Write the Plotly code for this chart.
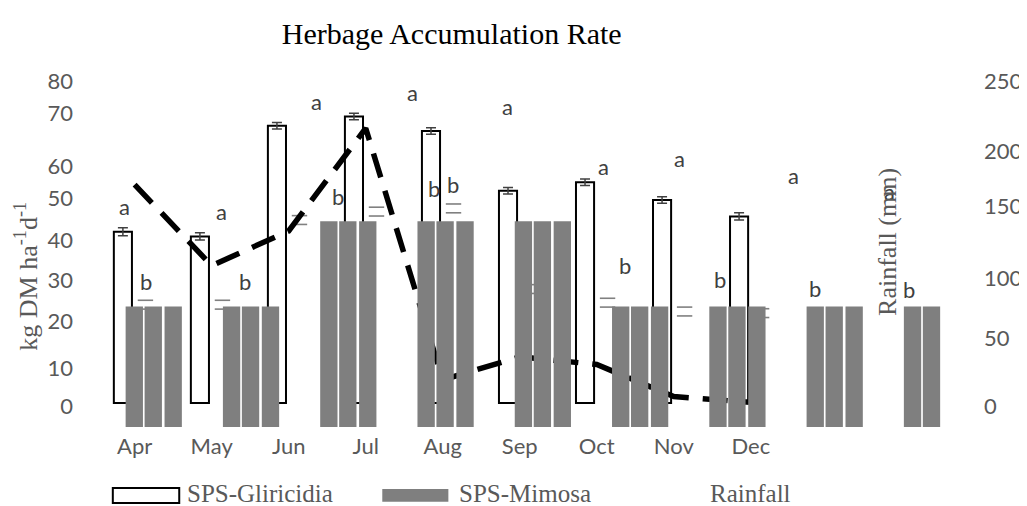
import plotly.graph_objects as go

# months on the category axis
months = ["Apr", "May", "Jun", "Jul", "Aug", "Sep", "Oct", "Nov", "Dec"]

# herbage accumulation rate, kg DM ha-1 d-1
gliricidia = [42.7, 41.5, 69.1, 71.4, 67.8, 52.9, 55.0, 50.6, 46.5]
gliricidia_err = [1.0, 0.9, 0.8, 0.8, 0.8, 0.8, 0.8, 0.8, 0.9]
mimosa = [24.5, 24.5, 45.6, 47.7, 48.5, 28.4, 25.0, 22.8, 22.4]
mimosa_err = [1.1, 1.1, 1.1, 1.1, 1.1, 1.1, 1.1, 1.1, 1.1]

# grey mimosa blocks as they show up in the picture (drawn on their own axis)
mimosa_blocks = [30.0, 30.0, 51.3, 51.3, 51.3, 30.0, 30.0, 30.0, 30.0]

# monthly rainfall, mm
rainfall = [170, 107, 134, 214, 18, 36, 30, 5, 0.5]

# significance letters
letters_gli = ["a", "a", "a", "a", "a", "a", "a", "a", "a"]
letters_mim = ["b", "b", "b", "b", "b", "b", "b", "b", "b"]
letters_gli_x = [-0.294, 0.701, 1.674, 2.659, 3.644, 4.627, 5.408, 6.579, 7.570]
letters_mim_x = [-0.080, 0.938, 1.902, 2.886, 3.076, 4.848, 5.823, 6.800, 7.768]

# axis tick labels (placed where they sit in the picture)
left_ticks = ["0", "10", "20", "30", "40", "50", "60", "70", "80"]
left_tick_pos = [-0.9, 8.7, 20.3, 30.6, 40.6, 51.1, 58.9, 72.3, 80.1]
right_ticks = ["0", "50", "100", "150", "200", "250"]
right_tick_pos = [-2.9, 50.4, 97.1, 152.9, 195.7, 250.2]

names = ["SPS-Gliricidia", "SPS-Mimosa", "Rainfall"]

idx = list(range(len(months)))

tick_font = dict(family="Lato", size=22, color="#595959")
serif_grey = dict(family="Liberation Serif", size=26, color="#595959")

fig = go.Figure()

# Gliricidia: white bars with black outline
fig.add_trace(go.Bar(
    x=idx, y=gliricidia, name=names[0],
    offset=-0.27, width=0.235,
    marker=dict(color="white", line=dict(color="black", width=2)),
    error_y=dict(type="data", array=gliricidia_err, color="#404040", thickness=1.5, width=5),
))

# Mimosa error caps (the little "=" marks)
mim_x = [i + 0.14 for i in idx]
fig.add_trace(go.Scatter(
    x=mim_x + mim_x,
    y=[m + e for m, e in zip(mimosa, mimosa_err)] + [m - e for m, e in zip(mimosa, mimosa_err)],
    mode="markers",
    marker=dict(symbol="line-ew", size=11, line=dict(color="#808080", width=1.6)),
    hoverinfo="skip",
))

# Rainfall: thick black dashed line on the right axis
fig.add_trace(go.Scatter(
    x=idx, y=rainfall, name=names[2], yaxis="y2", mode="lines",
    line=dict(color="black", width=5.5, dash="25px,14px"),
))

# grey blocks, three per month
for off in [-0.285, -0.09, 0.115]:
    fig.add_trace(go.Bar(
        x=idx, y=mimosa_blocks, name=names[1],
        xaxis="x2", yaxis="y3",
        offset=off, width=0.178,
        marker=dict(color="#7f7f7f", line=dict(width=0)),
    ))

# letters above the bars
for i in idx:
    fig.add_annotation(x=letters_gli_x[i], y=gliricidia[i] + gliricidia_err[i],
                       xref="x2", yref="y", text=letters_gli[i], showarrow=False,
                       xanchor="center", yanchor="middle",
                       yshift=21, font=dict(family="Lato", size=22, color="#404040"))
    fig.add_annotation(x=letters_mim_x[i], y=mimosa[i] + mimosa_err[i],
                       xref="x2", yref="y", text=letters_mim[i], showarrow=False,
                       xanchor="center", yanchor="middle",
                       yshift=19, font=dict(family="Lato", size=22, color="#404040"))

# axis titles
fig.add_annotation(x=-0.082, y=0.423, xref="paper", yref="paper",
                   xanchor="center", yanchor="middle",
                   text="kg DM ha<sup>-1</sup>d<sup>-1</sup>", textangle=-90,
                   showarrow=False, font=serif_grey)
fig.add_annotation(x=0.9375, y=0.519, xref="paper", yref="paper",
                   xanchor="center", yanchor="middle",
                   text="Rainfall (mm)", textangle=-90,
                   showarrow=False, font=serif_grey)

# legend drawn by hand along the bottom
fig.add_shape(type="rect", xref="paper", yref="paper",
              x0=0.0199, x1=0.0985, y0=-0.2129, y1=-0.1709,
              fillcolor="white", line=dict(color="black", width=2))
fig.add_shape(type="rect", xref="paper", yref="paper",
              x0=0.3388, x1=0.4170, y0=-0.2092, y1=-0.1737,
              fillcolor="#7f7f7f", line=dict(width=0))
for name, lx in zip(names, [0.1067, 0.4287, 0.7257]):
    fig.add_annotation(x=lx, y=-0.187, xref="paper", yref="paper",
                       xanchor="left", yanchor="middle", text=name,
                       showarrow=False, borderpad=0,
                       font=dict(family="Liberation Serif", size=25, color="#595959"))

# the page body adds an 8px offset, so the layout is laid out 8px up and left
fig.update_layout(
    width=1027, height=506,
    margin=dict(l=88, r=86, t=62, b=87),
    paper_bgcolor="white", plot_bgcolor="white",
    barmode="overlay",
    showlegend=False,
    title=dict(text="Herbage Accumulation Rate", x=443.7 / 1027, xanchor="center",
               y=1 - 25 / 506, yanchor="middle",
               font=dict(family="Liberation Serif", size=30, color="black")),
    xaxis=dict(range=[-0.5016, 10.469], tickvals=idx, ticktext=months,
               showgrid=False, zeroline=False, showline=False,
               tickfont=tick_font, ticklabelstandoff=4),
    xaxis2=dict(overlaying="x", range=[-0.5896, 8.0967], visible=False),
    yaxis=dict(range=[-5.981, 82.99], tickvals=left_tick_pos, ticktext=left_ticks,
               showgrid=False, zeroline=False, showline=False,
               tickfont=tick_font, ticklabelstandoff=22),
    yaxis2=dict(overlaying="y", side="right", range=[-18.69, 259.35],
                tickvals=right_tick_pos, ticktext=right_ticks,
                showgrid=False, zeroline=False, showline=False,
                tickfont=tick_font, ticklabelstandoff=42),
    yaxis3=dict(overlaying="y", range=[0, 88.97], visible=False),
)

fig.write_html("out.html")
